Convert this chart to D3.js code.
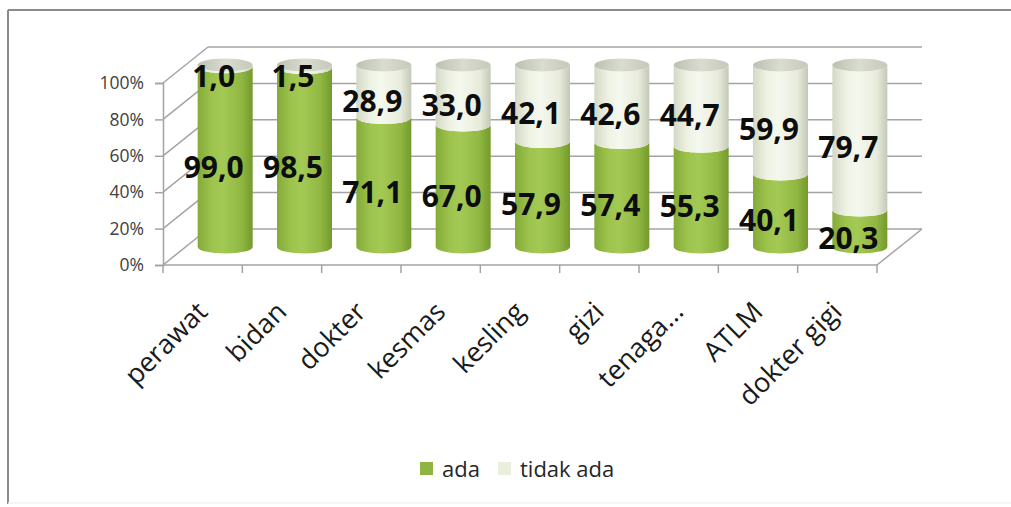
<!DOCTYPE html>
<html>
<head>
<meta charset="utf-8">
<script src="https://cdn.jsdelivr.net/npm/d3@7"></script>
<style>
  body { margin: 0; background: #fff; }
  text { font-family: "Open Sans", sans-serif; }
</style>
</head>
<body>
<div id="chart"></div>
<script>
var categories = ['perawat', 'bidan', 'dokter', 'kesmas', 'kesling', 'gizi', 'tenaga...', 'ATLM', 'dokter gigi'],
    ada      = [99.0, 98.5, 71.1, 67.0, 57.9, 57.4, 55.3, 40.1, 20.3],
    tidakAda = [1.0, 1.5, 28.9, 33.0, 42.1, 42.6, 44.7, 59.9, 79.7],
    yTicks   = [0, 20, 40, 60, 80, 100],
    seriesNames = ['ada', 'tidak ada'];

var width = 1011,
    height = 507,
    depth = {dx: 45, dy: -36},
    xScale = d3.scaleBand()
                .domain(categories)
                .range([163, 877])
                .padding(0),
    yScale = d3.scaleLinear()
                .domain([0, 100])
                .range([265, 83]),
    rx = 27.5,
    ry = 6.5;

var svg = d3.select("#chart").append("svg")
      .attr("width", width)
      .attr("height", height);

// outer frame: strong top and left, faint bottom
svg.append("line")
    .attr("x1", 8).attr("x2", width).attr("y1", 10).attr("y2", 10)
    .attr("stroke", "#8c8c8c").attr("stroke-width", 2);
svg.append("line")
    .attr("x1", 8).attr("x2", 8).attr("y1", 10).attr("y2", 504)
    .attr("stroke", "#8c8c8c").attr("stroke-width", 2);
svg.append("line")
    .attr("x1", 8).attr("x2", width).attr("y1", 503).attr("y2", 503)
    .attr("stroke", "#f2f2f2").attr("stroke-width", 1.5);

var defs = svg.append("defs");
function grad(id, stops) {
  var g = defs.append("linearGradient").attr("id", id)
      .attr("x1", "0%").attr("x2", "100%").attr("y1", "0%").attr("y2", "0%");
  stops.forEach(function(s){
    g.append("stop").attr("offset", s[0]).attr("stop-color", s[1]);
  });
}
grad("gGreen", [["0%", "#84aa38"], ["25%", "#9cc34c"], ["45%", "#a4ca55"], ["80%", "#90b741"], ["100%", "#739a2c"]]);
grad("gLight", [["0%", "#d3d8c6"], ["25%", "#eef2e3"], ["45%", "#f5f8ee"], ["80%", "#e8ecdc"], ["100%", "#c4c9b7"]]);
grad("gCap",   [["0%", "#bcc0b3"], ["50%", "#dadccf"], ["100%", "#c5c8bb"]]);

var x0 = xScale.range()[0], x1 = xScale.range()[1];

// back wall gridlines + side wall diagonals
var grid = svg.append("g").attr("stroke", "#a3a3a3").attr("stroke-width", 1.5).attr("fill", "none");
grid.selectAll(".back")
  .data(yTicks).enter()
  .append("line")
    .attr("x1", x0 + depth.dx).attr("x2", x1 + depth.dx)
    .attr("y1", function(d){ return yScale(d) + depth.dy; })
    .attr("y2", function(d){ return yScale(d) + depth.dy; });
grid.selectAll(".side")
  .data(yTicks).enter()
  .append("line")
    .attr("x1", x0).attr("x2", x0 + depth.dx)
    .attr("y1", function(d){ return yScale(d); })
    .attr("y2", function(d){ return yScale(d) + depth.dy; });
// floor right edge
grid.append("line")
    .attr("x1", x1).attr("y1", yScale(0))
    .attr("x2", x1 + depth.dx).attr("y2", yScale(0) + depth.dy);

// y axis
var yAxis = d3.axisLeft(yScale)
    .tickValues(yTicks)
    .tickSize(8)
    .tickFormat(function(d){ return d + "%"; });
var yg = svg.append("g")
    .attr("transform", "translate(" + x0 + ",0)")
    .call(yAxis);
yg.select(".domain").attr("stroke", "#a3a3a3").attr("stroke-width", 1.5);
yg.selectAll(".tick line").attr("stroke", "#a3a3a3").attr("stroke-width", 1.5);
yg.selectAll(".tick text")
    .attr("x", -19)
    .attr("font-size", "17.5px")
    .attr("font-family", "Open Sans, sans-serif")
    .attr("fill", "#404040");

// x axis line and boundary ticks
var xg = svg.append("g").attr("stroke", "#a3a3a3").attr("stroke-width", 1.5);
xg.append("line")
    .attr("x1", x0).attr("x2", x1)
    .attr("y1", yScale(0)).attr("y2", yScale(0));
xg.selectAll(".xtick")
  .data(categories.concat([null])).enter()
  .append("line")
    .attr("x1", function(d){ return d ? xScale(d) : x1; })
    .attr("x2", function(d){ return d ? xScale(d) : x1; })
    .attr("y1", yScale(0)).attr("y2", yScale(0) + 8);

// x labels
svg.append("g")
  .selectAll("text")
    .data(categories).enter()
    .append("text")
      .attr("transform", function(d){
        var cx = xScale(d) + xScale.bandwidth() / 2 - 8;
        return "translate(" + cx + ",299) rotate(-45)";
      })
      .attr("dy", "0.75em")
      .attr("text-anchor", "end")
      .attr("font-size", "27px")
      .attr("fill", "#1a1a1a")
      .text(function(d){ return d; });

// cylinders
var segs = [];
categories.forEach(function(c, i){
  segs.push({cat: c, lo: 0, hi: ada[i], v: ada[i], s: 0});
  segs.push({cat: c, lo: ada[i], hi: 100, v: tidakAda[i], s: 1});
});

function cx(d){ return xScale(d.cat) + xScale.bandwidth() / 2 + depth.dx / 2; }
function cy(v){ return yScale(v) + depth.dy / 2; }

function bodyPath(d){
  var c = cx(d), yt = cy(d.hi), yb = cy(d.lo);
  return "M" + (c - rx) + "," + yt +
         "A" + rx + "," + ry + " 0 0 0 " + (c + rx) + "," + yt +
         "L" + (c + rx) + "," + yb +
         "A" + rx + "," + ry + " 0 0 1 " + (c - rx) + "," + yb + "Z";
}

svg.append("g")
  .selectAll("path")
    .data(segs).enter()
    .append("path")
      .attr("d", bodyPath)
      .attr("fill", function(d){ return d.s === 0 ? "url(#gGreen)" : "url(#gLight)"; });

svg.append("g")
  .selectAll("ellipse")
    .data(categories).enter()
    .append("ellipse")
      .attr("cx", function(d){ return xScale(d) + xScale.bandwidth() / 2 + depth.dx / 2; })
      .attr("cy", cy(100))
      .attr("rx", rx).attr("ry", ry)
      .attr("fill", "url(#gCap)");

// data labels
svg.append("g")
  .selectAll("text")
    .data(segs).enter()
    .append("text")
      .attr("x", function(d){ return xScale(d.cat) + xScale.bandwidth() / 2 + 11; })
      .attr("y", function(d){ return yScale((d.lo + d.hi) / 2) - 8; })
      .attr("dy", "0.36em")
      .attr("text-anchor", "middle")
      .attr("font-size", "30px")
      .attr("font-weight", "bold")
      .attr("fill", "#0d0d0d")
      .text(function(d){ return d.v.toFixed(1).replace(".", ","); });

// legend
var legend = svg.append("g")
  .selectAll("g")
    .data(seriesNames).enter()
    .append("g")
      .attr("transform", function(d, i){ return "translate(" + (420 + i * 78) + ",462)"; });
legend.append("rect")
    .attr("width", 13).attr("height", 13)
    .attr("fill", function(d, i){ return i === 0 ? "#8db53f" : "#eaeedd"; });
legend.append("text")
    .attr("x", 22).attr("y", 15)
    .attr("font-size", "22px")
    .attr("fill", "#262626")
    .text(function(d){ return d; });
</script>
</body>
</html>
